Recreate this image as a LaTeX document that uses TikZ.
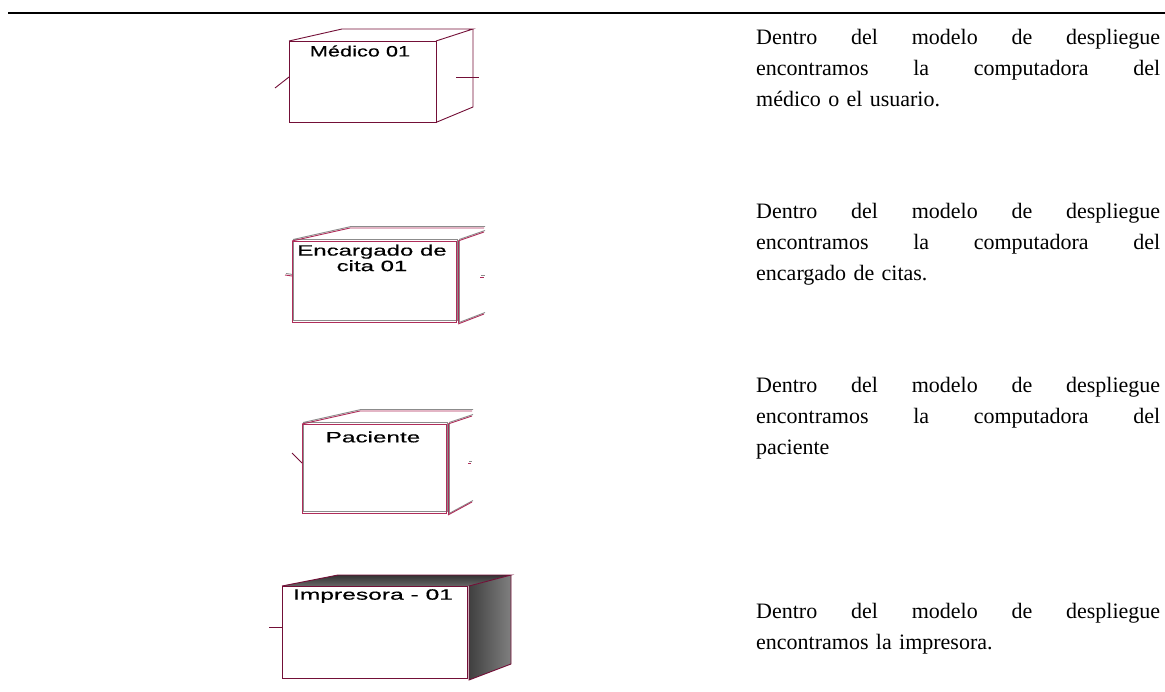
\documentclass[tikz,border=0pt]{standalone}
\usepackage{fontspec}
\setmainfont{Liberation Serif}
\newfontfamily\arialf[FakeBold=0.4]{Liberation Sans}
\usepackage{graphicx}
\definecolor{edgeA}{RGB}{115,15,55}
\definecolor{edgeB}{RGB}{175,45,90}
\definecolor{ghost}{RGB}{140,140,140}
\newcommand\jl[1]{\leavevmode\hbox to 404pt{#1}}
\tikzset{
  boxA/.style={draw=edgeA, line width=0.9pt},
  boxB/.style={draw=edgeB, line width=0.9pt},
  ghostline/.style={draw=ghost, line width=0.9pt, shift={(1,-1.5)}},
  lbl/.style={inner sep=0pt, font=\arialf\fontsize{15}{15.5}\selectfont, align=center},
  para/.style={inner sep=0pt, anchor=base west, text width=404pt, align=left, font=\fontsize{22}{31}\selectfont},
  rulel/.style={line width=2pt}
}
\begin{document}
\begin{tikzpicture}[x=1pt,y=-1pt]
\useasboundingbox (0,0) rectangle (1165,691);
% top rule
\coordinate (r1) at (8,13);
\coordinate (r2) at (1165,13);
\draw[rulel] (r1) -- (r2);

% ---------- Box 1: Medico
\draw[boxA] (289,41) rectangle (436,122);
\draw[boxA] (289,41) -- (342,29) -- (473,29) -- (436,41);
\draw[boxA] (473,29) -- (473,107) -- (437,122);
\draw[boxA] (275,88) -- (289,77);
\draw[boxA] (456,77) -- (479,77);
\node[lbl] (l1) at (360,51) {\scalebox{1.45}[1]{Médico 01}};

% ---------- Box 2: Encargado
\foreach \s in {ghostline,boxB}{
  \draw[\s] (292,241) rectangle (456,322);
  \draw[\s] (292,241) -- (350,228) -- (484,228);
  \draw[\s] (458,241) -- (458,323);
  \draw[\s] (458,241) -- (484,232);
  \draw[\s] (458,324) -- (484,314);
  \draw[\s] (285,275) -- (292,276);
  \draw[\s] (480,277) -- (484,277);
}
\node[lbl] (l2) at (372,258) {\scalebox{1.6}[1]{Encargado de}\\\scalebox{1.6}[1]{cita 01}};

% ---------- Box 3: Paciente
\foreach \s in {ghostline,boxB}{
  \draw[\s] (302,424) rectangle (446,513);
  \draw[\s] (302,424) -- (360,411) -- (472,411);
  \draw[\s] (448,424) -- (448,515);
  \draw[\s] (448,424) -- (472,416);
  \draw[\s] (448,515) -- (472,502);
  \draw[\s] (468,463) -- (471,463);
}
\draw[boxA] (292,453) -- (302,463);
\node[lbl] (l3) at (373,437) {\scalebox{1.62}[1]{Paciente}};

% ---------- Box 4: Impresora
\shade[top color=black!80, bottom color=black!60] (282,586) -- (338,575) -- (511,575) -- (469,586) -- cycle;
\shade[left color=black!75, right color=black!50] (469,586) -- (511,575) -- (511,664) -- (469,680) -- cycle;
\draw[boxA] (282,586) -- (338,575) -- (511,575) -- (469,586);
\draw[boxA] (511,575) -- (511,664) -- (469,680) -- (469,586);
\draw[boxA, fill=white] (282,586) rectangle (467,678);
\draw[boxA] (269,627) -- (282,627);
\node[lbl] (l4) at (373,596) {\scalebox{1.64}[1]{Impresora - 01}};

% ---------- Texts
\node[para] (t1) at (756,44) {%
\jl{Dentro\hfill del\hfill modelo\hfill de\hfill despliegue}\\
\jl{encontramos\hfill la\hfill computadora\hfill del}\\
médico o el usuario.};
\node[para] (t2) at (756,218) {%
\jl{Dentro\hfill del\hfill modelo\hfill de\hfill despliegue}\\
\jl{encontramos\hfill la\hfill computadora\hfill del}\\
encargado de citas.};
\node[para] (t3) at (756,392) {%
\jl{Dentro\hfill del\hfill modelo\hfill de\hfill despliegue}\\
\jl{encontramos\hfill la\hfill computadora\hfill del}\\
paciente};
\node[para] (t4) at (756,618) {%
\jl{Dentro\hfill del\hfill modelo\hfill de\hfill despliegue}\\
encontramos la impresora.};
\end{tikzpicture}
\end{document}
